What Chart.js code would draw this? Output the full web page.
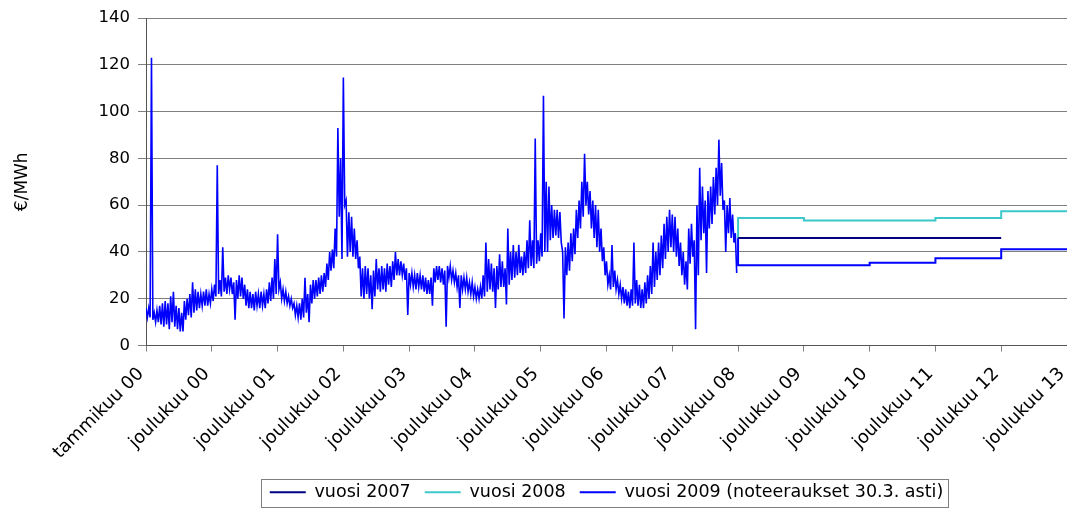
<!DOCTYPE html>
<html>
<head>
<meta charset="utf-8">
<script src="https://cdn.jsdelivr.net/npm/chart.js@4.4.1/dist/chart.umd.min.js"></script>
<style>
  html, body { margin: 0; padding: 0; background: #fff; }
</style>
</head>
<body>
<canvas id="priceChart" width="1067" height="512"></canvas>
<script>
const xLabels = ['tammikuu 00', 'joulukuu 00', 'joulukuu 01', 'joulukuu 02', 'joulukuu 03',
    'joulukuu 04', 'joulukuu 05', 'joulukuu 06', 'joulukuu 07', 'joulukuu 08',
    'joulukuu 09', 'joulukuu 10', 'joulukuu 11', 'joulukuu 12', 'joulukuu 13'];

// spot price: 24 readings per tick interval,
// upper and lower edge of the daily band for each reading
const SPOT_PER_TICK = 24;
const spotHigh = [
    16, 16, 123, 14, 15, 17, 18, 19, 18, 21,
    23, 17, 16, 14, 19, 20, 22, 27, 24, 23,
    22, 23, 24, 22, 24, 26, 77, 28, 42, 29,
    30, 29, 27, 28, 30, 29, 26, 24, 23, 22,
    23, 22, 23, 22, 24, 27, 29, 37, 47.5, 27,
    24, 23, 21, 20, 18, 17, 18, 20, 29, 22,
    26, 28, 28, 29, 30, 31, 35, 40, 41, 50,
    93, 80, 114.6, 62, 57, 55, 50, 45, 38, 33,
    34, 33, 30, 32, 37, 33, 34, 33, 35, 34,
    36, 40, 37, 36, 35, 33, 31, 31, 30, 31,
    30, 30, 29, 28, 29, 33, 34, 34, 33, 32,
    34, 34, 32, 31, 30, 30, 29, 29, 27, 27,
    25, 24, 25, 30, 44, 37, 35, 33, 34, 39,
    36, 33, 50, 40, 43, 40, 43, 38, 40, 45,
    53.5, 45, 88.5, 45, 48, 106.8, 70, 68, 60, 58,
    58, 57, 40, 42, 44, 48, 50, 58, 62, 70,
    82, 70, 66, 62, 60, 58, 50, 42, 36, 30,
    43, 32, 28, 26, 25, 24, 23, 24, 44, 28,
    26, 24, 27, 30, 34, 44, 40, 44, 47, 52,
    55, 58, 56, 55, 50, 44, 40, 36, 50, 52,
    45, 60, 76, 68, 62, 66, 68, 72, 76, 88,
    78, 62, 60, 63, 56, 48
];
const spotLow = [
    12, 12, 11, 10, 10, 9, 8, 9, 7, 10,
    8, 7, 6, 6, 11, 13, 12, 14, 15, 16,
    17, 17, 17, 18, 19, 21, 22, 21, 23, 22,
    24, 22, 11, 20, 21, 20, 17, 16, 16, 15,
    17, 16, 17, 16, 18, 19, 20, 22, 24, 20,
    19, 18, 17, 16, 13, 12, 11, 12, 14, 10,
    18, 20, 21, 22, 23, 25, 28, 32, 33, 38,
    55, 37, 60, 38, 40, 38, 37, 33, 21, 20,
    22, 20, 15.5, 21, 24, 23, 24, 23, 26, 25,
    28, 30, 30, 30, 28, 13, 26, 25, 24, 25,
    24, 23, 22, 22, 17, 27, 28, 27, 26, 8,
    29, 28, 27, 25, 16, 24, 24, 23, 22, 21,
    20, 20, 20, 21, 23, 24, 23, 16, 24, 25,
    25, 17.5, 26, 28, 29, 30, 31, 30, 31, 33,
    34, 33, 35, 36, 38, 40, 40, 45, 46, 47,
    46, 44, 11.5, 30, 32, 36, 39, 46, 50, 55,
    60, 56, 50, 46, 42, 40, 36, 30, 26, 24,
    25, 24, 22, 20, 18, 17, 16, 17, 18, 17,
    16, 16, 18, 20, 22, 25, 28, 30, 33, 37,
    40, 42, 40, 38, 34, 30, 26, 24, 35, 38,
    7, 30, 45, 48, 31, 50, 52, 56, 60, 64,
    58, 40, 48, 46, 44, 31
];

// futures quotes: step start positions (in tick units) and their values
const steps2007 = [9, 13];
const quotes2007 = [46, 46];
const steps2008 = [9, 9, 10, 12, 13, 14];
const quotes2008 = [46, 54.5, 53.4, 54.5, 57.4, 57.4];
const steps2009 = [9, 9, 11, 12, 13, 14];
const quotes2009 = [46, 34.3, 35.4, 37.3, 41.1, 41.1];

const FONT = 'DejaVu Sans';
const toPoints = (xs, ys) => xs.map((x, i) => ({ x: x, y: ys[i] }));

// zigzag between the upper and lower edge so the line fills the band
const spotPoints = [];
spotHigh.forEach((hi, i) => {
    spotPoints.push({ x: i / SPOT_PER_TICK, y: hi });
    spotPoints.push({ x: (i + 0.5) / SPOT_PER_TICK, y: spotLow[i] });
});

const legendFrame = {
    id: 'legendFrame',
    afterDraw(chart) {
        const boxes = chart.legend.legendHitBoxes;
        if (!boxes || !boxes.length) return;
        const left = Math.min(...boxes.map(b => b.left)) - 9;
        const right = Math.max(...boxes.map(b => b.left + b.width)) + 5;
        const top = Math.min(...boxes.map(b => b.top)) - 5;
        const bottom = Math.max(...boxes.map(b => b.top + b.height)) + 5;
        const ctx = chart.ctx;
        ctx.save();
        ctx.strokeStyle = '#7f7f7f';
        ctx.lineWidth = 1;
        ctx.strokeRect(Math.round(left) + 0.5, Math.round(top) + 0.5, Math.round(right - left), Math.round(bottom - top));
        ctx.restore();
    }
};

const ctx = document.getElementById('priceChart').getContext('2d');
new Chart(ctx, {
    type: 'line',
    data: {
        datasets: [{
            label: 'vuosi 2007',
            data: toPoints(steps2007, quotes2007),
            borderColor: '#000080',
            backgroundColor: '#000080',
            borderWidth: 2,
            pointRadius: 0,
            stepped: 'before'
        }, {
            label: 'vuosi 2008',
            data: toPoints(steps2008, quotes2008),
            borderColor: '#3cc8c8',
            backgroundColor: '#3cc8c8',
            borderWidth: 2,
            pointRadius: 0,
            stepped: 'before'
        }, {
            label: 'vuosi 2009 (noteeraukset 30.3. asti)',
            data: toPoints(steps2009, quotes2009),
            borderColor: '#0000ff',
            backgroundColor: '#0000ff',
            borderWidth: 2,
            pointRadius: 0,
            stepped: 'before'
        }, {
            label: 'spot',
            data: spotPoints,
            borderColor: '#0000ff',
            backgroundColor: '#0000ff',
            borderWidth: 1.6,
            pointRadius: 0,
            tension: 0
        }]
    },
    options: {
        responsive: false,
        animation: false,
        events: [],
        layout: { padding: { top: 18, right: 0, bottom: 1, left: 0 } },
        plugins: {
            tooltip: { enabled: false },
            legend: {
                position: 'bottom',
                fullSize: false,
                labels: {
                    filter: item => item.datasetIndex < 3,
                    usePointStyle: true,
                    pointStyle: 'line',
                    pointStyleWidth: 36,
                    padding: 14,
                    color: '#000',
                    font: { family: FONT, size: 17.5 }
                }
            }
        },
        scales: {
            x: {
                type: 'linear',
                min: 0,
                max: 14,
                border: { display: true, color: '#555', width: 1 },
                grid: { drawOnChartArea: false, drawTicks: true, tickLength: 6, color: '#808080' },
                ticks: {
                    stepSize: 1,
                    autoSkip: false,
                    maxRotation: 45,
                    minRotation: 45,
                    padding: 12,
                    labelOffset: -5,
                    color: '#000',
                    font: { family: FONT, size: 18 },
                    callback: v => xLabels[v]
                },
                afterFit: s => { s.height = 124; s.paddingLeft = 0; s.paddingRight = 0; }
            },
            y: {
                min: 0,
                max: 140,
                border: { display: true, color: '#555', width: 1 },
                grid: { color: '#808080', tickLength: 8 },
                ticks: {
                    stepSize: 20,
                    padding: 8,
                    color: '#000',
                    font: { family: FONT, size: 16.5 }
                },
                title: {
                    display: true,
                    text: '€/MWh',
                    color: '#000',
                    padding: { top: 12, bottom: 0 },
                    font: { family: FONT, size: 17 }
                },
                afterFit: s => { s.width = 146; s.paddingTop = 0; s.paddingBottom = 0; }
            }
        }
    },
    plugins: [legendFrame]
});
</script>
</body>
</html>
